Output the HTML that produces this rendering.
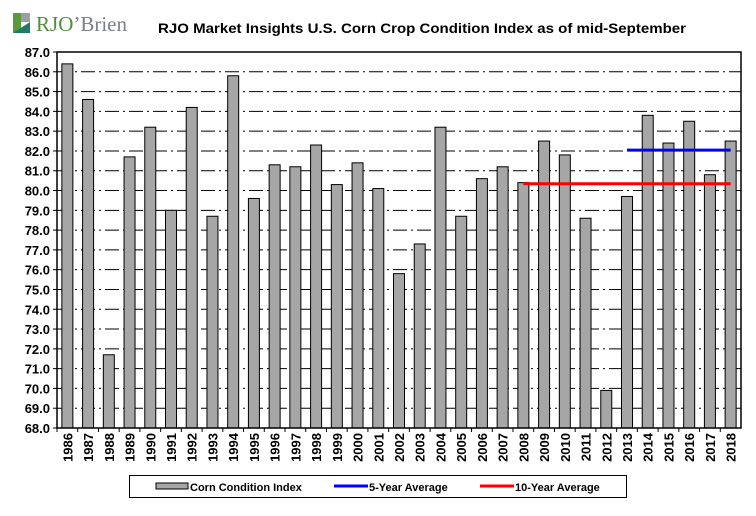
<!DOCTYPE html>
<html><head><meta charset="utf-8"><style>
body{margin:0;background:#fff;width:756px;height:516px;overflow:hidden}
svg{display:block;font-family:"Liberation Sans",Arial,sans-serif}
</style></head><body>
<svg id="chart" width="756" height="516" viewBox="0 0 756 516">
<g>
<rect x="13" y="13" width="8" height="20" fill="#5a9a3a"/>
<rect x="21" y="13" width="9" height="9" fill="#9aa0a4"/>
<polygon points="13,33 30,33 30,22" fill="#1f7a6a"/>
<text x="36" y="31" font-family="Liberation Serif,serif" font-size="21" fill="#4f8f3a" textLength="91">RJO<tspan fill="#7a8088">’Brien</tspan></text>
</g>
<text x="158" y="33" font-size="14" font-weight="bold" fill="#000" textLength="528" lengthAdjust="spacingAndGlyphs">RJO Market Insights U.S. Corn Crop Condition Index as of mid-September</text>
<g id="grid"></g><g id="bars"></g><g id="lines"></g><g id="axes"></g>
<g>
<rect x="129.5" y="475.5" width="497" height="22" fill="#fff" stroke="#000"/>
<g><rect x="156" y="483" width="32" height="6" fill="#a6a6a6" stroke="#000"/>
<text x="190" y="491" font-size="11" font-weight="bold">Corn Condition Index</text></g>
<g><line x1="334" y1="486" x2="368" y2="486" stroke="#0000ff" stroke-width="3"/>
<text x="369" y="491" font-size="11" font-weight="bold">5-Year Average</text></g>
<g><line x1="480" y1="486" x2="514" y2="486" stroke="#ff0000" stroke-width="3"/>
<text x="515" y="491" font-size="11" font-weight="bold">10-Year Average</text></g>
</g>
</svg>
<script>
const years=["1986","1987","1988","1989","1990","1991","1992","1993","1994","1995","1996","1997","1998","1999","2000","2001","2002","2003","2004","2005","2006","2007","2008","2009","2010","2011","2012","2013","2014","2015","2016","2017","2018"];
const values=[86.4,84.6,71.7,81.7,83.2,79.0,84.2,78.7,85.8,79.6,81.3,81.2,82.3,80.3,81.4,80.1,75.8,77.3,83.2,78.7,80.6,81.2,80.4,82.5,81.8,78.6,69.9,79.7,83.8,82.4,83.5,80.8,82.5];
const avg5=[82.04];
const avg5Range=["2013","2018"];
const avg10=[80.34];
const avg10Range=["2008","2018"];
const yTicks=[68,69,70,71,72,73,74,75,76,77,78,79,80,81,82,83,84,85,86,87];
const NS="http://www.w3.org/2000/svg";
const L=57,R=741,T=52,B=428,yMin=68,yMax=87;
const bw=(R-L)/years.length;
const y=v=>B-(v-yMin)/(yMax-yMin)*(B-T);
const xc=i=>L+bw*(i+0.5);
function mk(tag,attrs,parent){const e=document.createElementNS(NS,tag);for(const k in attrs)e.setAttribute(k,attrs[k]);document.getElementById(parent).appendChild(e);return e;}
yTicks.forEach(t=>{
  if(t>yMin&&t<yMax){const g=mk('line',{x1:L,x2:R,y1:y(t),y2:y(t),stroke:'#000','stroke-width':1,'stroke-dasharray':'14,4,2,4'},'grid');
  
  }
  const tk=mk('line',{x1:L-4,x2:L,y1:y(t),y2:y(t),stroke:'#000'},'axes');
  
  
  const tx=mk('text',{x:L-7,y:y(t)+5,'text-anchor':'end','font-size':13,'font-weight':'bold'},'axes');
  tx.textContent=t.toFixed(1);
  
  
});
values.forEach((v,i)=>{
  const r=mk('rect',{x:xc(i)-5.5,y:y(v),width:11,height:B-y(v),fill:'#a6a6a6',stroke:'#000','stroke-width':1},'bars');
  
  
  const tk=mk('line',{x1:L+bw*i,x2:L+bw*i,y1:B,y2:B+4,stroke:'#000'},'axes');
  
  
  const tx=mk('text',{x:0,y:0,'text-anchor':'end','font-size':13,'font-weight':'bold',transform:`translate(${xc(i)+5},433) rotate(-90)`},'axes');
  tx.textContent=years[i];
  
  
});
function avgLine(val,rng,col,name){
  const i0=years.indexOf(rng[0]),i1=years.indexOf(rng[1]);
  const l=mk('line',{x1:xc(i0),x2:xc(i1),y1:y(val),y2:y(val),stroke:col,'stroke-width':3},'lines');
  
  
}
avgLine(avg5[0],avg5Range,'#0000ff','five-year-average-line');
avgLine(avg10[0],avg10Range,'#ff0000','ten-year-average-line');
const fr=mk('rect',{x:L,y:T,width:R-L,height:B-T,fill:'none',stroke:'#000','stroke-width':1.5},'axes');


</script>
</body></html>
